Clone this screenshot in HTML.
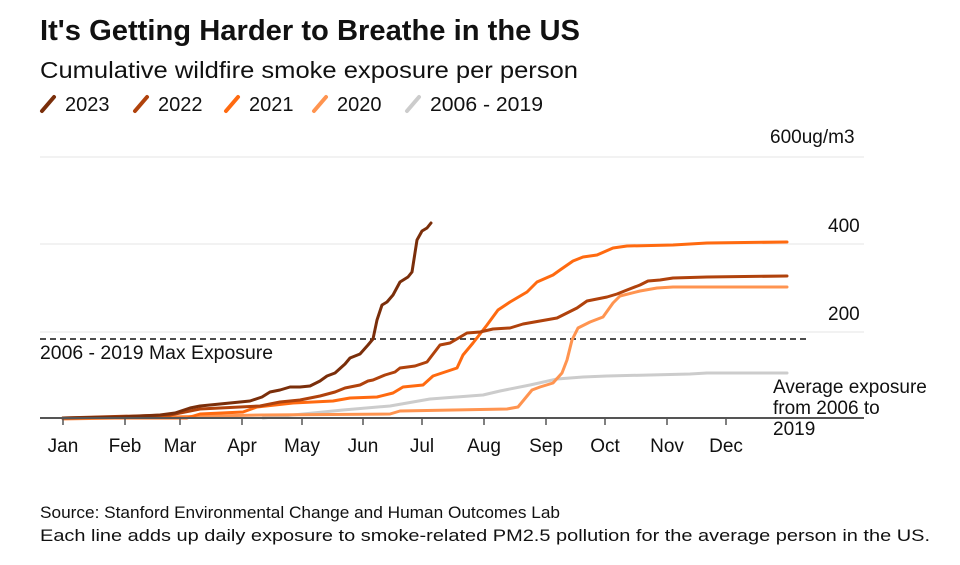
<!DOCTYPE html>
<html><head><meta charset="utf-8"><style>
body{margin:0;background:#fff;}
svg text{font-family:"Liberation Sans",Arial,sans-serif;fill:#111;}
</style></head><body>
<svg width="960" height="560" viewBox="0 0 960 560" xmlns="http://www.w3.org/2000/svg">
<text x="40" y="40" font-size="29" font-weight="bold" textLength="540" lengthAdjust="spacingAndGlyphs">It's Getting Harder to Breathe in the US</text>
<text x="40" y="78" font-size="23" textLength="538" lengthAdjust="spacingAndGlyphs">Cumulative wildfire smoke exposure per person</text>
<g stroke-width="4" stroke-linecap="round" fill="none">
<line x1="42" y1="111" x2="54" y2="97" stroke="#7a2e0a"/>
<line x1="135" y1="111" x2="147" y2="97" stroke="#b0420c"/>
<line x1="226" y1="111" x2="238" y2="97" stroke="#ff6a10"/>
<line x1="314" y1="111" x2="326" y2="97" stroke="#ff9450"/>
<line x1="407" y1="111" x2="419" y2="97" stroke="#cccccc"/>
</g>
<g font-size="20">
<text x="65" y="111">2023</text><text x="158" y="111">2022</text><text x="249" y="111">2021</text><text x="337" y="111">2020</text><text x="430" y="111" textLength="113" lengthAdjust="spacingAndGlyphs">2006 - 2019</text>
</g>
<g stroke="#eeeeee" stroke-width="1.5">
<line x1="40" y1="157" x2="864" y2="157"/><line x1="40" y1="244" x2="864" y2="244"/><line x1="40" y1="332" x2="864" y2="332"/>
</g>
<g font-size="19">
<text x="770" y="143">600ug/m3</text><text x="828" y="232">400</text><text x="828" y="320">200</text>
</g>
<line x1="40" y1="339" x2="808" y2="339" stroke="#111" stroke-width="1.5" stroke-dasharray="6,4"/>
<text x="40" y="359" font-size="19" textLength="233" lengthAdjust="spacingAndGlyphs">2006 - 2019 Max Exposure</text>
<g fill="none" stroke-width="3" stroke-linejoin="round" stroke-linecap="round">
<polyline stroke="#cccccc" points="263,418 343,410 390,406 430,399 483,395 500,391 530,385 557,379 583,377 607,376 690,374 707,373 787,373"/>
<polyline stroke="#ff9450" points="63,419 263,415 390,414 400,411 507,409 518,407 532,390 540,387 553,383 562,373 567,360 572,340 578,328 590,322 603,317 613,303 620,296 640,291 657,288 673,287 787,287"/>
<polyline stroke="#ff6a10" points="63,418 187,418 200,414 243,412 257,407 293,403 333,401 350,398 377,397 393,393 403,387 423,385 433,376 457,368 463,355 473,343 487,325 498,310 510,302 527,292 537,282 553,275 560,270 573,261 583,257 597,255 613,248 627,246 673,245 707,243 787,242"/>
<polyline stroke="#b0420c" points="63,418 170,415 200,409 260,406 280,402 300,400 320,396 335,392 345,388 360,385 368,381 373,380 385,375 395,372 400,368 415,366 427,362 440,345 450,343 467,333 480,332 493,329 510,328 523,324 540,321 557,318 567,313 577,308 587,301 597,299 607,297 617,294 627,290 640,285 648,281 660,280 673,278 707,277 787,276"/>
<polyline stroke="#7a2e0a" points="63,418 120,417 160,415 175,413 190,408 200,406 210,405 230,403 250,401 262,397 270,392 280,390 290,387 300,387 310,386 320,381 327,376 335,373 345,364 350,358 360,354 368,345 373,339 377,320 382,305 387,302 393,295 400,282 408,277 412,272 417,240 422,231 427,228 431,223"/>
</g>
<line x1="40" y1="418" x2="864" y2="418" stroke="#555" stroke-width="2"/>
<g stroke="#555" stroke-width="1.5">
<line x1="63" y1="418" x2="63" y2="425"/><line x1="125" y1="418" x2="125" y2="425"/><line x1="180" y1="418" x2="180" y2="425"/><line x1="242" y1="418" x2="242" y2="425"/><line x1="302" y1="418" x2="302" y2="425"/><line x1="363" y1="418" x2="363" y2="425"/><line x1="422" y1="418" x2="422" y2="425"/><line x1="484" y1="418" x2="484" y2="425"/><line x1="546" y1="418" x2="546" y2="425"/><line x1="605" y1="418" x2="605" y2="425"/><line x1="667" y1="418" x2="667" y2="425"/><line x1="726" y1="418" x2="726" y2="425"/>
</g>
<g font-size="19" text-anchor="middle">
<text x="63" y="452">Jan</text><text x="125" y="452">Feb</text><text x="180" y="452">Mar</text><text x="242" y="452">Apr</text><text x="302" y="452">May</text><text x="363" y="452">Jun</text><text x="422" y="452">Jul</text><text x="484" y="452">Aug</text><text x="546" y="452">Sep</text><text x="605" y="452">Oct</text><text x="667" y="452">Nov</text><text x="726" y="452">Dec</text>
</g>
<g font-size="19">
<text x="773" y="393">Average exposure</text><text x="773" y="414">from 2006 to</text><text x="773" y="435">2019</text>
</g>
<g font-size="17">
<text x="40" y="518" textLength="520" lengthAdjust="spacingAndGlyphs">Source: Stanford Environmental Change and Human Outcomes Lab</text>
<text x="40" y="541" textLength="890" lengthAdjust="spacingAndGlyphs">Each line adds up daily exposure to smoke-related PM2.5 pollution for the average person in the US.</text>
</g>
</svg>
</body></html>
